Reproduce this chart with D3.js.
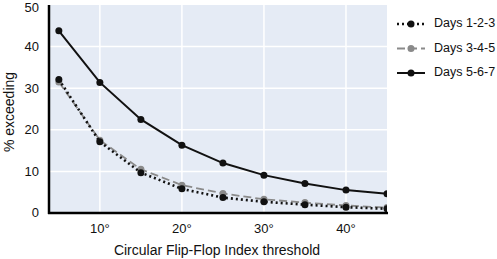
<!DOCTYPE html>
<html lang="en">
<head>
<meta charset="UTF-8">
<script src="https://d3js.org/d3.v7.min.js"></script>
<style>
  body { margin: 0; background: #fff; }
  text { font-family: "Liberation Sans", Arial, sans-serif; fill: #111; }
</style>
</head>
<body>
<script>
// thresholds (degrees) and % exceeding for each period
const thresholds = [5, 10, 15, 20, 25, 30, 35, 40, 45];
const days123 = [32.1, 17.1, 9.7, 5.8, 3.7, 2.7, 2.0, 1.4, 1.0];
const days345 = [31.5, 17.5, 10.5, 6.7, 4.7, 3.3, 2.5, 1.8, 1.3];
const days567 = [43.8, 31.4, 22.5, 16.3, 12.0, 9.1, 7.1, 5.5, 4.6];
const xTicks = [10, 20, 30, 40];
const yTicks = [0, 10, 20, 30, 40, 50];

const series = [
  {name: "Days 1-2-3", values: days123, color: "#111", dash: "2,3", width: 2.6, marker: "#111"},
  {name: "Days 3-4-5", values: days345, color: "#8a8a8a", dash: "8,4", width: 1.8, marker: "#8a8a8a"},
  {name: "Days 5-6-7", values: days567, color: "#111", dash: null, width: 2, marker: "#111"}
];

const W = 497, H = 259;
const plotBox = {left: 49, right: 387, top: 5, bottom: 213};

const svg = d3.select("body").append("svg")
  .attr("width", W).attr("height", H);

const x = d3.scaleLinear().domain([3.8, 45]).range([plotBox.left, plotBox.right]);
const y = d3.scaleLinear().domain([0, 50]).range([plotBox.bottom, plotBox.top]);

// plot background
svg.append("rect")
  .attr("x", plotBox.left).attr("y", plotBox.top)
  .attr("width", plotBox.right - plotBox.left).attr("height", plotBox.bottom - plotBox.top)
  .attr("fill", "#e5ebf5");

// grid
svg.append("g").selectAll("line").data(xTicks).join("line")
  .attr("x1", d => x(d)).attr("x2", d => x(d))
  .attr("y1", plotBox.top).attr("y2", plotBox.bottom)
  .attr("stroke", "#fff").attr("stroke-width", 1.5);
svg.append("g").selectAll("line").data(yTicks.filter(d => d > 0 && d < 50)).join("line")
  .attr("x1", plotBox.left).attr("x2", plotBox.right)
  .attr("y1", d => y(d)).attr("y2", d => y(d))
  .attr("stroke", "#fff").attr("stroke-width", 1.5);

svg.append("clipPath").attr("id", "clip")
  .append("rect").attr("x", plotBox.left).attr("y", 0)
  .attr("width", plotBox.right - plotBox.left).attr("height", plotBox.bottom);

const plot = svg.append("g").attr("clip-path", "url(#clip)");
const line = d3.line().x((d, i) => x(thresholds[i])).y(d => y(d));

// draw 3-4-5 first, then dotted, then solid
[series[1], series[0], series[2]].forEach(s => {
  plot.append("path")
    .attr("d", line(s.values))
    .attr("fill", "none")
    .attr("stroke", s.color)
    .attr("stroke-width", s.width)
    .attr("stroke-dasharray", s.dash);
  plot.selectAll(null).data(s.values).join("circle")
    .attr("cx", (d, i) => x(thresholds[i]))
    .attr("cy", d => y(d))
    .attr("r", 3.5)
    .attr("fill", s.marker);
});

// axes lines
svg.append("line").attr("x1", plotBox.left).attr("x2", plotBox.left)
  .attr("y1", plotBox.top).attr("y2", plotBox.bottom + 1)
  .attr("stroke", "#000").attr("stroke-width", 2.5);
svg.append("line").attr("x1", plotBox.left - 1).attr("x2", plotBox.right + 1)
  .attr("y1", plotBox.bottom).attr("y2", plotBox.bottom)
  .attr("stroke", "#000").attr("stroke-width", 2.5);

// tick labels
svg.append("g").selectAll("text").data(yTicks).join("text")
  .attr("x", 39).attr("y", d => Math.max(y(d) + 1, 8.5))
  .attr("text-anchor", "end").attr("dominant-baseline", "middle")
  .attr("font-size", 13).text(d => d);
svg.append("g").selectAll("text").data(xTicks).join("text")
  .attr("x", d => x(d)).attr("y", 230)
  .attr("text-anchor", "middle").attr("dominant-baseline", "middle")
  .attr("font-size", 13).text(d => d + "°");

// axis titles
svg.append("text")
  .attr("x", (plotBox.left + plotBox.right) / 2 - 1).attr("y", 251)
  .attr("text-anchor", "middle").attr("dominant-baseline", "middle")
  .attr("font-size", 14).text("Circular Flip-Flop Index threshold");
svg.append("text")
  .attr("transform", `translate(10,112) rotate(-90)`)
  .attr("text-anchor", "middle").attr("dominant-baseline", "middle")
  .attr("font-size", 14).text("% exceeding");

// legend
const legend = svg.append("g");
series.forEach((s, i) => {
  const ly = 24 + i * 24.5;
  legend.append("line")
    .attr("x1", 397).attr("x2", 425).attr("y1", ly).attr("y2", ly)
    .attr("stroke", s.color).attr("stroke-width", s.width)
    .attr("stroke-dasharray", s.dash);
  legend.append("circle").attr("cx", 411).attr("cy", ly).attr("r", 3.5).attr("fill", s.marker);
  legend.append("text")
    .attr("x", 434).attr("y", ly)
    .attr("dominant-baseline", "middle")
    .attr("font-size", 12.5).text(s.name);
});
</script>
</body>
</html>
